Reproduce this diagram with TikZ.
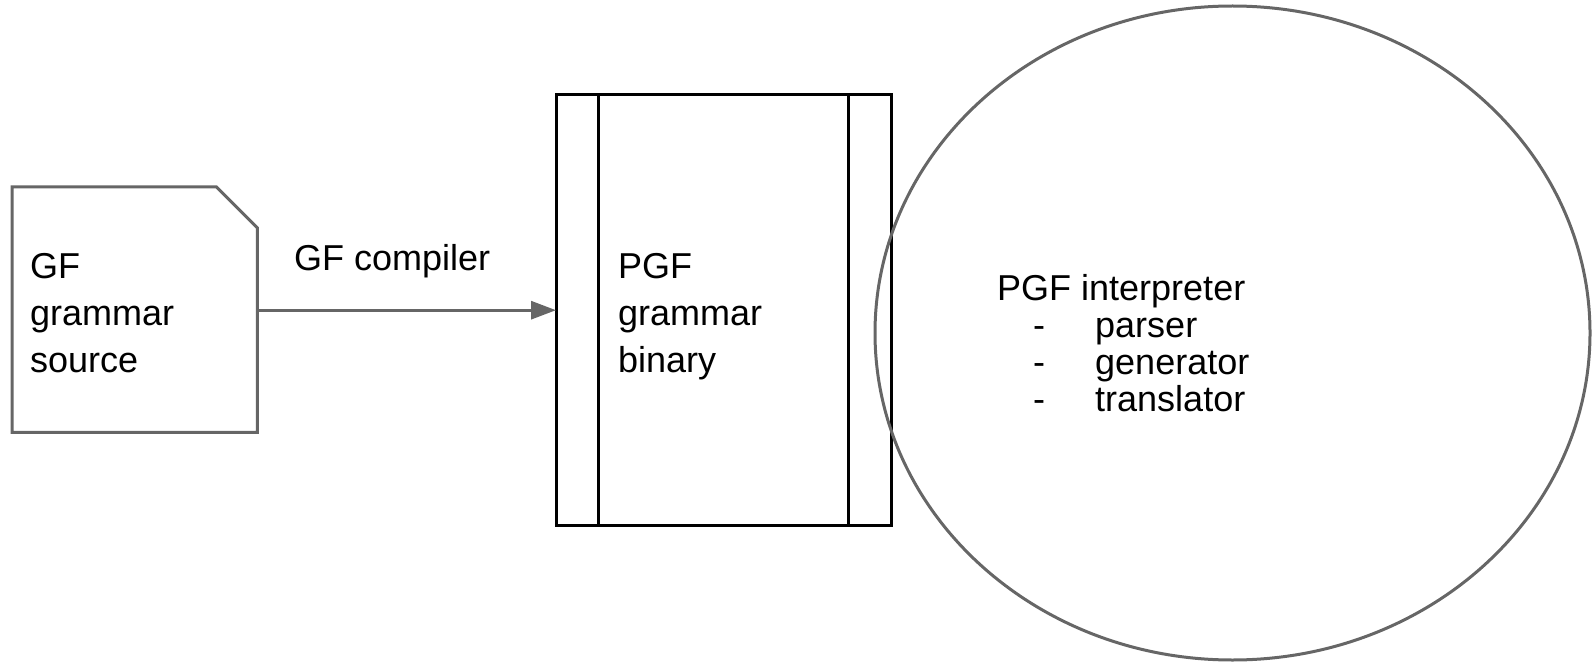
\documentclass[tikz,border=0pt]{standalone}
\usepackage{fontspec}
\setmainfont{Liberation Sans}
\newfontfamily\dfont{Liberation Sans}
\usetikzlibrary{arrows.meta,shapes.geometric}
\definecolor{linegray}{HTML}{666666}
\tikzset{
  txt/.style={anchor=base west, inner sep=0pt, font=\dfont\fontsize{36}{41}\selectfont, text=black},
  docline/.style={draw=linegray, line width=3pt, line join=miter},
  boxline/.style={draw=black, line width=3pt},
  conn/.style={draw=linegray, line width=3pt, -{Triangle[length=25pt,width=18pt]}},
}
\begin{document}
\begin{tikzpicture}[x=1pt,y=-1pt]
\useasboundingbox (0,0) rectangle (1592,663);
% source document
\node[inner sep=0pt, minimum width=245pt, minimum height=245pt, anchor=north west] (src) at (12,187) {};
\draw[docline] (src.north west) -- ([xshift=-41pt]src.north east) -- ([yshift=-41pt]src.north east) -- (src.south east) -- (src.south west) -- cycle;
\node[txt] (src1) at (30,278) {GF};
\node[txt] (src2) at (30,325) {grammar};
\node[txt] (src3) at (30,372) {source};
% binary box
\node[inner sep=0pt, minimum width=335pt, minimum height=430pt, anchor=north west] (pgf) at (556,95) {};
\draw[boxline] (pgf.north west) rectangle (pgf.south east);
\draw[boxline] ([xshift=42pt]pgf.north west) -- ([xshift=42pt]pgf.south west);
\draw[boxline] ([xshift=-43pt]pgf.north east) -- ([xshift=-43pt]pgf.south east);
\node[txt] (pgf1) at (618,278) {PGF};
\node[txt] (pgf2) at (618,325) {grammar};
\node[txt] (pgf3) at (618,372) {binary};
% connector
\draw[conn] (src.east |- pgf.west) -- (pgf.west);
\node[txt] (comp) at (294,270) {GF compiler};
% interpreter ellipse
\node[ellipse, draw=linegray, line width=3pt, inner sep=0pt, minimum width=715pt, minimum height=654pt] (interp) at (1232.5,333) {};
\node[txt] (int0) at (997,300) {PGF interpreter};
\node[txt] (d1) at (1033,337) {-};
\node[txt] (i1) at (1095,337) {parser};
\node[txt] (d2) at (1033,374) {-};
\node[txt] (i2) at (1095,374) {generator};
\node[txt] (d3) at (1033,411) {-};
\node[txt] (i3) at (1095,411) {translator};
\end{tikzpicture}
\end{document}
